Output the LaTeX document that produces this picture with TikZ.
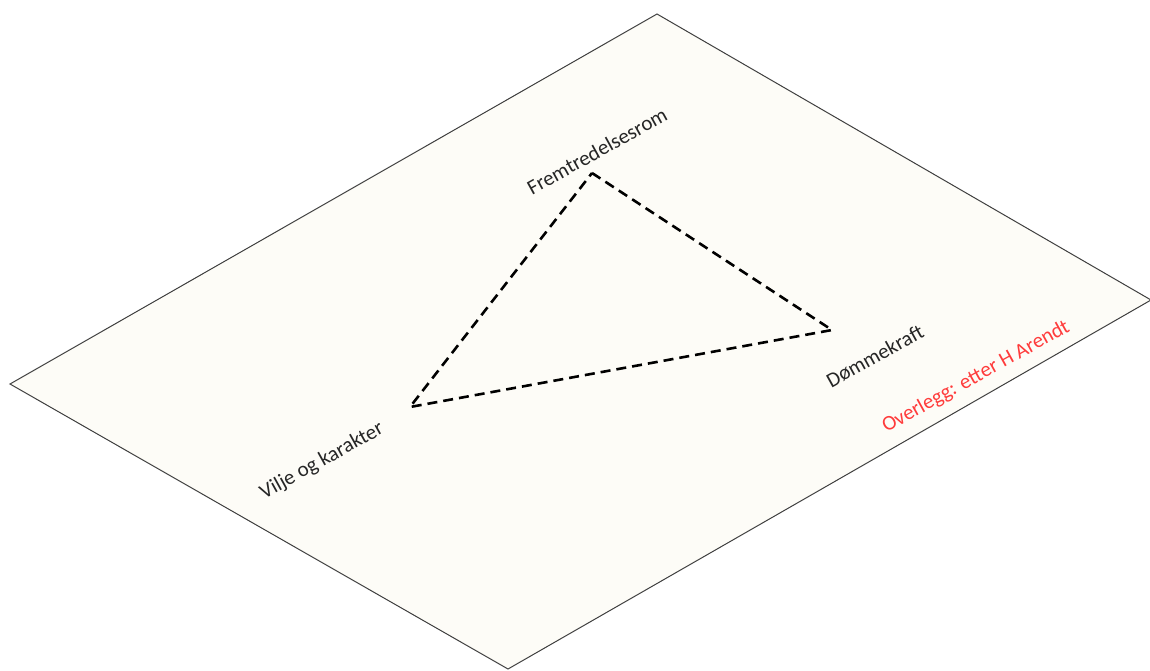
\documentclass[tikz,border=0pt]{standalone}
\usepackage{fontspec}
\setmainfont{Carlito}
\definecolor{plane}{HTML}{FDFCF7}
\definecolor{edge}{HTML}{404040}
\definecolor{note}{HTML}{FF3B3B}
\definecolor{ink}{HTML}{262626}
\begin{document}
\begin{tikzpicture}[x=1pt,y=-1pt,
  lbl/.style={font=\fontsize{21}{24}\selectfont, text=ink, rotate=29, inner sep=0pt},
  tri/.style={line width=2.6pt, dash pattern=on 10pt off 6pt, black}]
\useasboundingbox (0,0) rectangle (1150,670);
\coordinate (T) at (657,14);
\coordinate (R) at (1151,300);
\coordinate (B) at (508,669);
\coordinate (L) at (10,384);
\fill[plane] (T) -- (R) -- (B) -- (L) -- cycle;
\draw[edge, line width=1pt] (T) -- (R) -- (B) -- (L) -- cycle;
\coordinate (a) at (592,173);
\coordinate (b) at (832,330);
\coordinate (c) at (410,407);
\draw[tri] (a) -- (b) -- (c) -- cycle;
\node[lbl] (fr) at (597,151) {Fremtredelsesrom};
\node[lbl] (dk) at (875,356) {Dømmekraft};
\node[lbl] (vk) at (322,461) {Vilje og karakter};
\node[lbl, text=note] (ov) at (976,377) {Overlegg: etter H Arendt};
\end{tikzpicture}
\end{document}
